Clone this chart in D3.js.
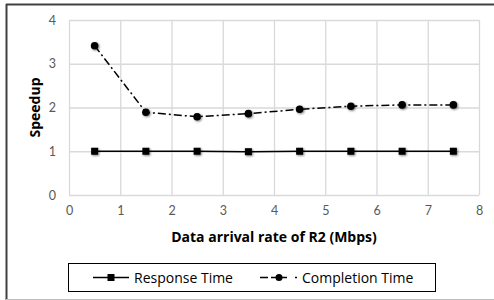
<!DOCTYPE html>
<html>
<head>
<meta charset="utf-8">
<script src="https://cdn.jsdelivr.net/npm/d3@7"></script>
<style>
  body { margin: 0; background: #fff; }
  svg { display: block; font-family: "Open Sans", Lato, sans-serif; }
</style>
</head>
<body>
<svg id="chart" width="494" height="300"></svg>
<script>
// values
var rates = [0.5, 1.5, 2.5, 3.5, 4.5, 5.5, 6.5, 7.5];
var responseTime = [1.0, 1.0, 1.0, 0.99, 1.0, 1.0, 1.0, 1.0];
var completionTime = [3.41, 1.89, 1.79, 1.86, 1.96, 2.03, 2.06, 2.06];
var xTicks = [0, 1, 2, 3, 4, 5, 6, 7, 8];
var yTicks = [0, 1, 2, 3, 4];

var vis = d3.select("#chart"),
    MARGINS = { top: 20, right: 15, bottom: 105, left: 69 },
    WIDTH = 494,
    HEIGHT = 300;

// outer frame
vis.append("line").attr("x1", 6).attr("x2", 494).attr("y1", 4.5).attr("y2", 4.5)
    .attr("stroke", "#404040").attr("stroke-width", 2);
vis.append("line").attr("x1", 6.5).attr("x2", 6.5).attr("y1", 4).attr("y2", 300)
    .attr("stroke", "#404040").attr("stroke-width", 2);
vis.append("line").attr("x1", 6).attr("x2", 494).attr("y1", 299.5).attr("y2", 299.5)
    .attr("stroke", "#bfbfbf").attr("stroke-width", 1);

var xScale = d3.scaleLinear().domain([0, 8]).range([MARGINS.left, WIDTH - MARGINS.right]),
    yScale = d3.scaleLinear().domain([0, 4]).range([HEIGHT - MARGINS.bottom, MARGINS.top]);

// grid
var xAxis = d3.axisBottom(xScale).tickValues(xTicks)
    .tickSize(-(yScale(0) - yScale(4))).tickPadding(11).tickFormat(d3.format("d"));
var yAxis = d3.axisLeft(yScale).tickValues(yTicks)
    .tickSize(-(xScale(8) - xScale(0))).tickPadding(13).tickFormat(d3.format("d"));

var gx = vis.append("g")
    .attr("transform", "translate(0," + yScale(0) + ")")
    .call(xAxis);
var gy = vis.append("g")
    .attr("transform", "translate(" + xScale(0) + ",0)")
    .call(yAxis);

[gx, gy].forEach(function (g) {
  g.select(".domain").remove();
  g.selectAll(".tick line").attr("stroke", "#d9d9d9").attr("stroke-width", 1.3);
  g.selectAll(".tick text").attr("fill", "#595959")
    .style("font-family", "Lato, sans-serif").style("font-size", "12.5px");
});

// soft shadow under the markers
var defs = vis.append("defs");
var f = defs.append("filter").attr("id", "shadow")
    .attr("x", "-50%").attr("y", "-50%").attr("width", "200%").attr("height", "200%");
f.append("feGaussianBlur").attr("in", "SourceAlpha").attr("stdDeviation", 1).attr("result", "b");
f.append("feOffset").attr("in", "b").attr("dx", 0.6).attr("dy", 0.6).attr("result", "o");
f.append("feComponentTransfer").attr("in", "o").attr("result", "s")
  .append("feFuncA").attr("type", "linear").attr("slope", 0.5);
var fm = f.append("feMerge");
fm.append("feMergeNode").attr("in", "s");
fm.append("feMergeNode").attr("in", "SourceGraphic");

var lineGen = d3.line()
    .x(function (d) { return xScale(d[0]); })
    .y(function (d) { return yScale(d[1]); });

var respData = d3.zip(rates, responseTime),
    compData = d3.zip(rates, completionTime);

vis.append("path")
    .attr("d", lineGen(respData))
    .attr("stroke", "#000").attr("stroke-width", 1.5).attr("fill", "none");

vis.append("path")
    .attr("d", lineGen(compData))
    .attr("stroke", "#000").attr("stroke-width", 1.5).attr("fill", "none")
    .attr("stroke-dasharray", "8,3,2,3");

vis.append("g").selectAll("rect").data(respData).enter().append("rect")
    .attr("x", function (d) { return xScale(d[0]) - 3.5; })
    .attr("y", function (d) { return yScale(d[1]) - 3.5; })
    .attr("width", 7).attr("height", 7)
    .attr("fill", "#000").attr("filter", "url(#shadow)");

vis.append("g").selectAll("circle").data(compData).enter().append("circle")
    .attr("cx", function (d) { return xScale(d[0]); })
    .attr("cy", function (d) { return yScale(d[1]); })
    .attr("r", 3.8)
    .attr("fill", "#000").attr("filter", "url(#shadow)");

// axis titles
vis.append("text")
    .attr("x", (xScale(0) + xScale(8)) / 2).attr("y", 242)
    .attr("text-anchor", "middle")
    .style("font-size", "14px").style("font-weight", "bold").attr("fill", "#000")
    .text("Data arrival rate of R2 (Mbps)");

vis.append("text")
    .attr("transform", "translate(40," + (yScale(0) + yScale(4)) / 2 + ") rotate(-90)")
    .attr("text-anchor", "middle")
    .style("font-size", "14px").style("font-weight", "bold").attr("fill", "#000")
    .text("Speedup");

// legend
var legend = vis.append("g");
legend.append("rect").attr("x", 68.5).attr("y", 263.5).attr("width", 367).attr("height", 28)
    .attr("fill", "#fff").attr("stroke", "#000").attr("stroke-width", 1);

legend.append("line").attr("x1", 93).attr("x2", 129).attr("y1", 277.5).attr("y2", 277.5)
    .attr("stroke", "#000").attr("stroke-width", 1.5);
legend.append("rect").attr("x", 107.5).attr("y", 274).attr("width", 7).attr("height", 7)
    .attr("fill", "#000");
legend.append("text").attr("x", 134).attr("y", 282.5)
    .style("font-size", "14px").attr("fill", "#000").text("Response Time");

legend.append("line").attr("x1", 260).attr("x2", 298).attr("y1", 277.5).attr("y2", 277.5)
    .attr("stroke", "#000").attr("stroke-width", 1.5).attr("stroke-dasharray", "8,3,16,8,2,20");
legend.append("circle").attr("cx", 279).attr("cy", 277.5).attr("r", 3.5).attr("fill", "#000");
legend.append("text").attr("x", 302).attr("y", 282.5)
    .style("font-size", "14px").attr("fill", "#000").text("Completion Time");
</script>
</body>
</html>
